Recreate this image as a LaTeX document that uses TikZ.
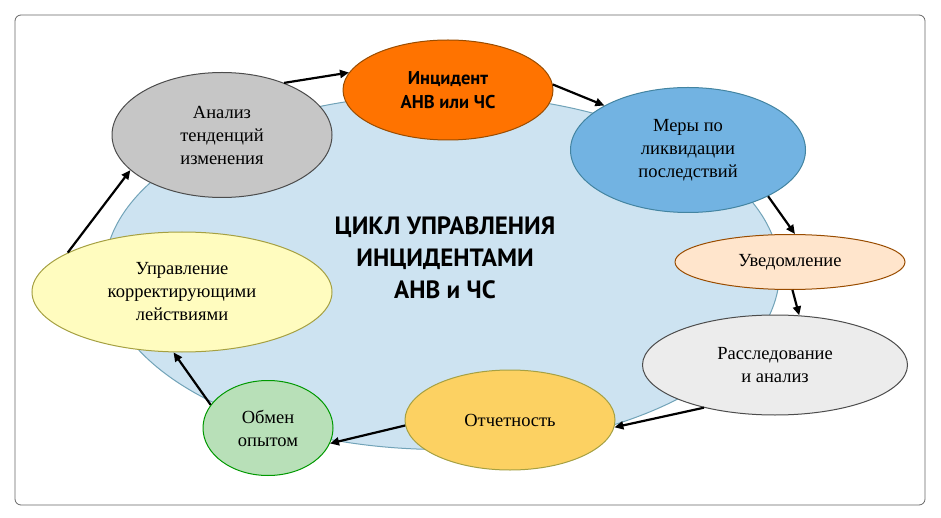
\documentclass[tikz,border=0pt]{standalone}
\usepackage{fontspec}
\setmainfont{Liberation Serif}
\newfontfamily\hdfont{PT Sans}
\usetikzlibrary{shapes.geometric,arrows.meta}
\definecolor{bigc}{HTML}{CDE3F1}
\definecolor{merc}{HTML}{72B3E2}
\tikzset{
 el/.style={ellipse,draw=#1!60!black,line width=1pt,inner sep=0pt,align=center,font=\fontsize{18.5}{23}\selectfont},
 ar/.style={-{Triangle[length=9pt,width=8pt]},line width=2.2pt}
}
\begin{document}
\begin{tikzpicture}[x=1pt,y=-1pt]
\useasboundingbox (0,0) rectangle (941,518);
\draw[rounded corners=6pt,line width=0.8pt,draw=black!60] (15,15) rectangle (925,505);
\node[ellipse,fill=bigc,draw=cyan!40!gray,line width=1pt,minimum width=675,minimum height=355] (big) at (442,272) {};
\node[align=center,font=\hdfont\bfseries\fontsize{25}{32}\selectfont] (title) at (445,258) {ЦИКЛ УПРАВЛЕНИЯ\\ИНЦИДЕНТАМИ\\АНВ и ЧС};
\node[el=gray,fill=gray!45,minimum width=220,minimum height=125] (an) at (222,135) {Анализ\\тенденций\\изменения};
\node[el=orange,fill=orange!90!red,minimum width=210,minimum height=100,font=\hdfont\bfseries\fontsize{18.5}{24}\selectfont] (inc) at (448,90) {Инцидент\\АНВ или ЧС};
\node[el=cyan,fill=merc,minimum width=235,minimum height=125] (mer) at (688,150) {Меры по\\ликвидации\\последствий};
\node[el=orange,fill=orange!20,minimum width=230,minimum height=55] (uv) at (790,262) {Уведомление};
\node[el=gray,fill=gray!15,minimum width=265,minimum height=100] (ras) at (775,365) {Расследование\\и анализ};
\node[el=yellow,fill=yellow!45!orange!60,minimum width=210,minimum height=100] (ot) at (510,420) {Отчетность};
\node[el=green,fill=green!40!gray!40,minimum width=130,minimum height=95] (ob) at (268,428) {Обмен\\опытом};
\node[el=yellow,fill=yellow!25,minimum width=300,minimum height=120] (up) at (182,292) {Управление\\корректирующими\\лействиями};
\draw[ar] (an.40) -- (inc.170);
\draw[ar] (inc.3) -- (mer.152);
\draw[ar] (mer.-30) -- (uv.80);
\draw[ar] (uv.-85) -- (ras.64);
\draw[ar] (ras.211) -- (ot.356);
\draw[ar] (ot.183) -- (ob.-14);
\draw[ar] (ob.158) -- (up.262);
\draw[ar] (up.161) -- (an.201);
\end{tikzpicture}
\end{document}
